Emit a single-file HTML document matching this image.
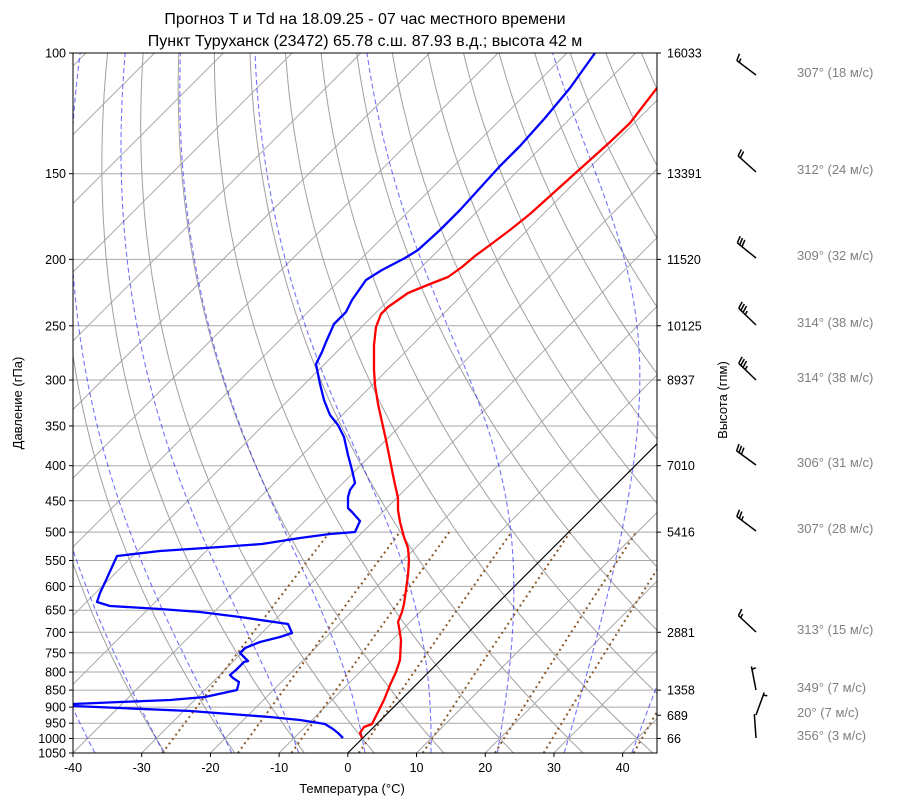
<!DOCTYPE html>
<html><head><meta charset="utf-8"><style>
html,body{margin:0;padding:0;background:#fff;}
svg{display:block;font-family:"Liberation Sans","DejaVu Sans",sans-serif;}
</style></head><body>
<svg id="s" width="900" height="806" viewBox="0 0 900 806" xmlns="http://www.w3.org/2000/svg">
<defs><clipPath id="c"><rect x="73" y="53" width="584" height="700"/></clipPath></defs>
<text x="365" y="24" font-size="16" text-anchor="middle">Прогноз T и Td на 18.09.25 - 07 час местного времени</text>
<text x="365" y="46" font-size="16" text-anchor="middle">Пункт Туруханск (23472) 65.78 с.ш. 87.93 в.д.; высота 42 м</text>
<g id="bg" clip-path="url(#c)"></g>
<g id="data" clip-path="url(#c)">
<polyline fill="none" stroke="#ff0000" stroke-width="2.3" stroke-linejoin="round" points="362,738 360,733 364,727 372,724 378,712 384,700 390,685 396,672 400,660 401,640 399,627 398,622 402,612 404,604 406,590 408,575 409,560 408,548 404,537 400,522 398,510 398,498 394,480 390,460 386,440 382,422 378,404 375,385 374,370 374,345 376,327 381,314 388,307 398,300 408,293 430,284 448,277 462,267 475,256 490,245 510,230 530,214 550,196 570,178 590,160 610,142 630,123 657,88"/>
<polyline fill="none" stroke="#0000ff" stroke-width="2.3" stroke-linejoin="round" points="343,738 338,733 333,729 325,724 300,720 270,717 230,714 190,711 120,708 73,706 73,704 120,702 170,700 205,697 237,690 239,682 233,678 230,675 236,670 244,662 248,661 240,653 245,648 260,642 280,637 292,633 288,624 240,617 200,612 160,609 110,606 97,602 100,593 107,578 117,556 160,551 220,547 262,544 300,538 330,534 355,532 360,521 352,512 348,508 348,497 350,490 355,483 352,470 348,455 344,437 338,425 330,415 324,400 320,384 316,364 322,352 326,342 334,324 346,312 352,300 366,280 382,270 405,258 418,250 440,230 460,210 480,188 500,166 520,146 545,118 570,88 595,53"/>
</g>
<rect x="73" y="53" width="584" height="700" fill="none" stroke="#000" stroke-width="1"/>
<g id="ax" font-size="12.5"></g>
<text x="352" y="793" font-size="13" text-anchor="middle">Температура (°C)</text>
<text x="22" y="403" font-size="13" text-anchor="middle" transform="rotate(-90 22 403)">Давление (гПа)</text>
<text x="727" y="400" font-size="13" text-anchor="middle" transform="rotate(-90 727 400)">Высота (гпм)</text>
<g id="w"></g>
</svg>
<script>
var NS="http://www.w3.org/2000/svg";
function el(p,t,a,txt){var e=document.createElementNS(NS,t);for(var k in a)e.setAttribute(k,a[k]);if(txt!==undefined)e.textContent=txt;document.getElementById(p).appendChild(e);return e;}
var L=Math.log(10.5);
function Y(p){return 53+Math.log(p/100)/L*700;}
function X(T,p){return 73+(T+40)*6.8706+(753-Y(p));}
function line(pts,st){el("bg","polyline",Object.assign({points:pts.map(function(a){return a[0].toFixed(1)+","+a[1].toFixed(1)}).join(" "),fill:"none"},st));}
var ps=[];for(var p=1050;p>=100;p-=5)ps.push(p);
var ticks=[100,150,200,250,300,350,400,450,500,550,600,650,700,750,800,850,900,950,1000,1050];
ticks.forEach(function(p){el("bg","line",{x1:73,x2:657,y1:Y(p),y2:Y(p),stroke:"#a9a9a9","stroke-width":1});});
for(var T=-160;T<=50;T+=10){line([[X(T,1050),Y(1050)],[X(T,100),Y(100)]],{stroke:"#a9a9a9","stroke-width":1});}
for(var th=-30;th<=250;th+=10){var pts=ps.map(function(p){var t=(th+273.15)*Math.pow(p/1000,0.2857)-273.15;return [X(t,p),Y(p)];});line(pts,{stroke:"#a0a0a0","stroke-width":1});}
function es(T){return 6.112*Math.exp(17.67*T/(T+243.5));}
function dTdp(T,p){var Tk=T+273.15,rs=0.622*es(T)/(p-es(T));var Lv=2.501e6,Rd=287,Cp=1005;return (Rd*Tk+Lv*rs)/(p*(Cp+Lv*Lv*rs*0.622/(Rd*Tk*Tk)));}
for(var t0=-40;t0<=40;t0+=10){var pts=[];var T=t0,p=1000;
 var Td=t0;for(var q=1000;q<1050;q+=1){Td+=dTdp(Td,q);} pts.push([X(Td,1050),Y(1050)]);
 for(p=1000;p>=100;p-=1){if(p%5==0)pts.push([X(T,p),Y(p)]);T-=dTdp(T,p);}
 line(pts,{stroke:"#0000ff","stroke-opacity":0.55,"stroke-width":1.1,"stroke-dasharray":"5,3"});}
[-27,-16,-8.2,1.6,10.9,21.4,28.5,41.6].forEach(function(t){var e=es(t),w=0.622*e/(1050-e);var pts=[];for(var p=1050;p>=500;p-=10){var ee=w*p/(0.622+w),ln=Math.log(ee/6.112),td=243.5*ln/(17.67-ln);pts.push([X(td,p),Y(p)]);}
 line(pts,{stroke:"#8b5a2b","stroke-width":2,"stroke-dasharray":"2,3.5"});});
line([[X(0,1050),Y(1050)],[X(0,100),Y(100)]],{stroke:"#000","stroke-width":1.1});
ticks.forEach(function(p){var y=Y(p);el("ax","line",{x1:69,x2:73,y1:y,y2:y,stroke:"#000"});el("ax","text",{x:66,y:y+4.5,"text-anchor":"end"},String(p));});
[[100,"16033"],[150,"13391"],[200,"11520"],[250,"10125"],[300,"8937"],[400,"7010"],[500,"5416"],[700,"2881"],[850,"1358"],[925,"689"],[1000,"66"]].forEach(function(a){var y=Y(a[0]);el("ax","line",{x1:657,x2:661,y1:y,y2:y,stroke:"#000"});el("ax","text",{x:667,y:y+4.5},a[1]);});
for(var t=-40;t<=40;t+=10){var x=73+(t+40)*6.8706;el("ax","line",{x1:x,x2:x,y1:753,y2:757,stroke:"#000"});el("ax","text",{x:x,y:772,"text-anchor":"middle"},String(t));}
[[75,307,18,"307° (18 м/с)"],[172,312,24,"312° (24 м/с)"],[258,309,32,"309° (32 м/с)"],[325,314,38,"314° (38 м/с)"],[380,314,38,"314° (38 м/с)"],[465,306,31,"306° (31 м/с)"],[531,307,28,"307° (28 м/с)"],[632,313,15,"313° (15 м/с)"],[690,349,7,"349° (7 м/с)"],[715,20,7," 20° (7 м/с)"],[738,356,3,"356° (3 м/с)"]].forEach(function(a){
 var x0=756,y0=a[0],d=a[1]*Math.PI/180,len=24;var ux=Math.sin(d),uy=-Math.cos(d);
 var xe=x0+ux*len,ye=y0+uy*len;el("w","line",{x1:x0,y1:y0,x2:xe,y2:ye,stroke:"#000","stroke-width":1.5});
 var sp=a[2],n=Math.floor(sp/10),h=(sp%10)>=5?1:0;
 var bx=-uy,by=ux;var i=0;
 for(i=0;i<n;i++){var sx=xe-ux*i*3,sy=ye-uy*i*3;el("w","line",{x1:sx,y1:sy,x2:sx+bx*7+ux*2,y2:sy+by*7+uy*2,stroke:"#000","stroke-width":1.5});}
 if(h){var k=n?i:1;var sx=xe-ux*k*3,sy=ye-uy*k*3;el("w","line",{x1:sx,y1:sy,x2:sx+bx*4+ux*1,y2:sy+by*4+uy*1,stroke:"#000","stroke-width":1.5});}
 el("w","text",{x:797,y:y0+2,"font-size":"13",fill:"#808080"},a[3]);
});
</script>
</body></html>
